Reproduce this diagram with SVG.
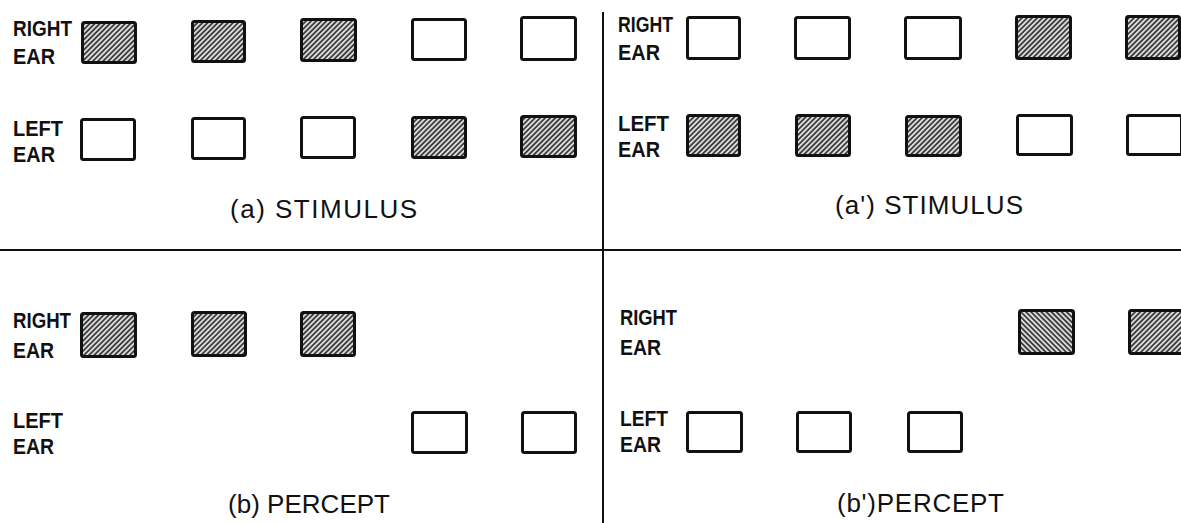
<svg xmlns="http://www.w3.org/2000/svg" width="1181" height="523" viewBox="0 0 1181 523">
<defs>
<pattern id="hatch" width="3.6" height="3.6" patternUnits="userSpaceOnUse" patternTransform="rotate(45)">
<rect width="3.6" height="3.6" fill="#dcdcdc"/>
<line x1="0.9" y1="0" x2="0.9" y2="3.6" stroke="#333" stroke-width="1.7"/>
</pattern>
<pattern id="hatch2" width="3.6" height="3.6" patternUnits="userSpaceOnUse" patternTransform="rotate(-45)">
<rect width="3.6" height="3.6" fill="#dcdcdc"/>
<line x1="0.9" y1="0" x2="0.9" y2="3.6" stroke="#333" stroke-width="1.7"/>
</pattern>
</defs>
<style>
.box{fill:#fff;stroke:#111;stroke-width:3;}
.sh{fill:url(#hatch);stroke:#111;stroke-width:3;}
.sh2{fill:url(#hatch2);stroke:#111;stroke-width:3;}
.ear{font-family:"Liberation Sans",Arial,sans-serif;font-size:21.5px;font-weight:bold;fill:#111;}
.ttl{font-family:"Liberation Sans",Arial,sans-serif;font-size:26px;fill:#111;}
.div{stroke:#111;stroke-width:2;fill:none;}
</style>
<rect width="1181" height="523" fill="#fff"/>
<g id="dividers">
<line class="div" x1="603" y1="12" x2="603" y2="523"/>
<line class="div" x1="0" y1="250" x2="1181" y2="250"/>
</g>
<g id="panel-a">
<g id="a-labels">
<text class="ear" x="13" y="36" textLength="59" lengthAdjust="spacingAndGlyphs">RIGHT</text>
<text class="ear" x="13" y="64" textLength="42" lengthAdjust="spacingAndGlyphs">EAR</text>
<text class="ear" x="13" y="136" textLength="50" lengthAdjust="spacingAndGlyphs">LEFT</text>
<text class="ear" x="13" y="162" textLength="42" lengthAdjust="spacingAndGlyphs">EAR</text>
<text class="ttl" x="230" y="218" textLength="187" lengthAdjust="spacing">(a) STIMULUS</text>
</g>
<g id="a-r1"><rect class="sh" x="82.5" y="22.5" width="53" height="40" rx="2"/></g>
<g id="a-r2"><rect class="sh" x="192.5" y="21.5" width="52" height="40" rx="2"/></g>
<g id="a-r3"><rect class="sh" x="301.5" y="19.5" width="54" height="41" rx="2"/></g>
<g id="a-r4"><rect class="box" x="412.5" y="19.5" width="53" height="40" rx="2"/></g>
<g id="a-r5"><rect class="box" x="521.5" y="17.5" width="54" height="42" rx="2"/></g>
<g id="a-l1"><rect class="box" x="81.5" y="119.5" width="53" height="40" rx="2"/></g>
<g id="a-l2"><rect class="box" x="192.5" y="118.5" width="52" height="40" rx="2"/></g>
<g id="a-l3"><rect class="box" x="301.5" y="117.5" width="53" height="40" rx="2"/></g>
<g id="a-l4"><rect class="sh" x="412.5" y="117.5" width="53" height="40" rx="2"/></g>
<g id="a-l5"><rect class="sh" x="521.5" y="116.5" width="54" height="40" rx="2"/></g>
</g>
<g id="panel-a-prime">
<g id="ap-labels">
<text class="ear" x="618" y="32" textLength="55" lengthAdjust="spacingAndGlyphs">RIGHT</text>
<text class="ear" x="618" y="60" textLength="42" lengthAdjust="spacingAndGlyphs">EAR</text>
<text class="ear" x="618" y="131" textLength="51" lengthAdjust="spacingAndGlyphs">LEFT</text>
<text class="ear" x="618" y="157" textLength="42" lengthAdjust="spacingAndGlyphs">EAR</text>
<text class="ttl" x="835" y="214" textLength="188" lengthAdjust="spacing">(a') STIMULUS</text>
</g>
<g id="ap-r1"><rect class="box" x="687.5" y="17.5" width="52" height="41" rx="2"/></g>
<g id="ap-r2"><rect class="box" x="795.5" y="17.5" width="54" height="41" rx="2"/></g>
<g id="ap-r3"><rect class="box" x="905.5" y="17.5" width="55" height="41" rx="2"/></g>
<g id="ap-r4"><rect class="sh" x="1016.5" y="16.5" width="54" height="42" rx="2"/></g>
<g id="ap-r5"><rect class="sh" x="1126.5" y="16.5" width="53" height="42" rx="2"/></g>
<g id="ap-l1"><rect class="sh" x="687.5" y="115.5" width="52" height="40" rx="2"/></g>
<g id="ap-l2"><rect class="sh" x="796.5" y="115.5" width="53" height="40" rx="2"/></g>
<g id="ap-l3"><rect class="sh" x="906.5" y="116.5" width="54" height="39" rx="2"/></g>
<g id="ap-l4"><rect class="box" x="1017.5" y="115.5" width="54" height="39" rx="2"/></g>
<g id="ap-l5"><rect class="box" x="1127.5" y="115.5" width="54" height="39" rx="2"/></g>
</g>
<g id="panel-b">
<g id="b-labels">
<text class="ear" x="13" y="328" textLength="58" lengthAdjust="spacingAndGlyphs">RIGHT</text>
<text class="ear" x="13" y="358" textLength="41" lengthAdjust="spacingAndGlyphs">EAR</text>
<text class="ear" x="13" y="428" textLength="50" lengthAdjust="spacingAndGlyphs">LEFT</text>
<text class="ear" x="13" y="454" textLength="41" lengthAdjust="spacingAndGlyphs">EAR</text>
<text class="ttl" x="228" y="513" textLength="162" lengthAdjust="spacing">(b) PERCEPT</text>
</g>
<g id="b-r1"><rect class="sh" x="81.5" y="313.5" width="54" height="43" rx="2"/></g>
<g id="b-r2"><rect class="sh" x="192.5" y="312.5" width="53" height="43" rx="2"/></g>
<g id="b-r3"><rect class="sh" x="301.5" y="312.5" width="53" height="43" rx="2"/></g>
<g id="b-l1"><rect class="box" x="412.5" y="412.5" width="54" height="40" rx="2"/></g>
<g id="b-l2"><rect class="box" x="522.5" y="412.5" width="53" height="40" rx="2"/></g>
</g>
<g id="panel-b-prime">
<g id="bp-labels">
<text class="ear" x="620" y="325" textLength="57" lengthAdjust="spacingAndGlyphs">RIGHT</text>
<text class="ear" x="620" y="355" textLength="41" lengthAdjust="spacingAndGlyphs">EAR</text>
<text class="ear" x="620" y="426" textLength="48" lengthAdjust="spacingAndGlyphs">LEFT</text>
<text class="ear" x="620" y="452" textLength="41" lengthAdjust="spacingAndGlyphs">EAR</text>
<text class="ttl" x="837" y="512" textLength="167" lengthAdjust="spacing">(b')PERCEPT</text>
</g>
<g id="bp-r1"><rect class="sh2" x="1019.5" y="310.5" width="54" height="43" rx="2"/></g>
<g id="bp-r2"><rect class="sh" x="1129.5" y="310.5" width="53" height="43" rx="2"/></g>
<g id="bp-l1"><rect class="box" x="687.5" y="412.5" width="54" height="39" rx="2"/></g>
<g id="bp-l2"><rect class="box" x="797.5" y="412.5" width="53" height="39" rx="2"/></g>
<g id="bp-l3"><rect class="box" x="908.5" y="412.5" width="53" height="39" rx="2"/></g>
</g>
</svg>
